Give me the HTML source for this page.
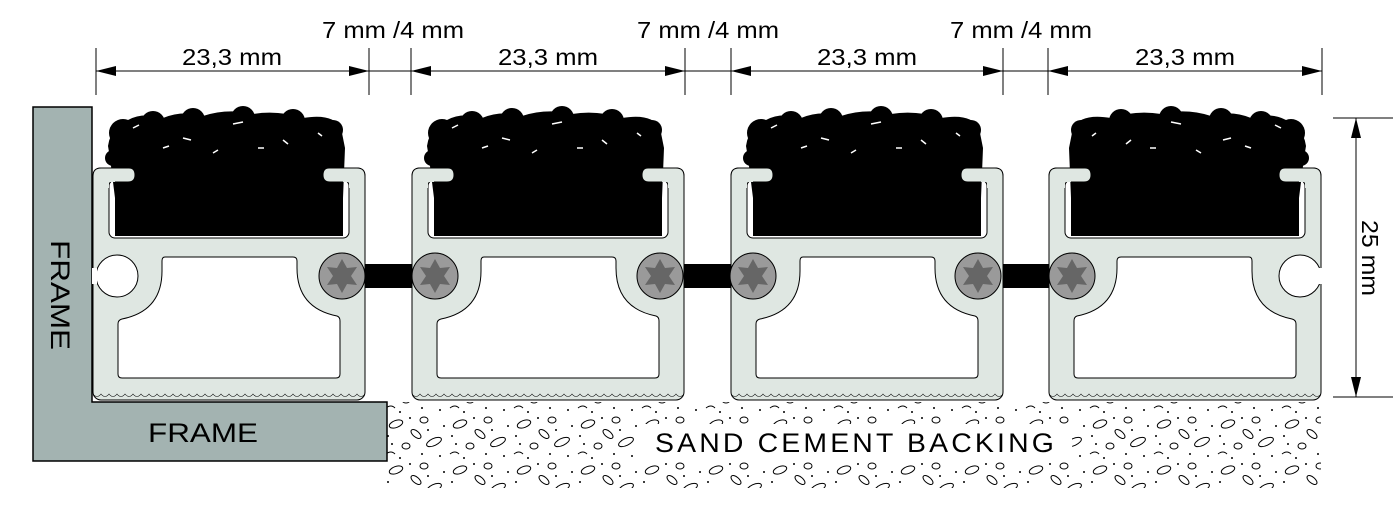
<!DOCTYPE html>
<html><head><style>body{margin:0;background:#fff}svg{display:block}</style></head>
<body>
<svg width="1395" height="519" viewBox="0 0 1395 519" xmlns="http://www.w3.org/2000/svg" font-family="Liberation Sans, sans-serif">
<defs>
<marker id="a" viewBox="0 0 20 10" refX="20" refY="5" markerWidth="20" markerHeight="10" markerUnits="userSpaceOnUse" orient="auto-start-reverse"><path d="M0,0 L20,5 L0,10 Z" fill="#000"/></marker>
<pattern id="sand" width="64" height="46" patternUnits="userSpaceOnUse">
<g fill="none" stroke="#000" stroke-width="1">
<ellipse cx="12" cy="10" rx="7" ry="3.5" transform="rotate(-20 12 10)"/>
<ellipse cx="40" cy="6" rx="4" ry="3"/>
<ellipse cx="50" cy="28" rx="8" ry="3.5" transform="rotate(-25 50 28)"/>
<ellipse cx="22" cy="32" rx="4" ry="3"/>
<ellipse cx="32" cy="20" rx="6" ry="3" transform="rotate(40 32 20)"/>
<path d="M2,40 q5,-4 9,0"/>
</g>
<g fill="#000">
<circle cx="4" cy="22" r="1"/><circle cx="26" cy="4" r="1"/><circle cx="60" cy="12" r="1"/><circle cx="38" cy="40" r="1"/><circle cx="16" cy="44" r="1"/><circle cx="56" cy="42" r="1"/><circle cx="44" cy="16" r="1"/><circle cx="8" cy="30" r="1"/>
</g>
</pattern>
<g id="pile">
<path d="M22,30 L17,-10 L15,-22 Q18,-42 35,-48 Q50,-56 70,-50 Q90,-58 110,-52 Q135,-60 160,-54 Q185,-58 210,-50 Q240,-55 248,-40 L252,-20 L250,30 Z" fill="#000"/>
<g fill="#000"><circle cx="30" cy="-35" r="14"/><circle cx="60" cy="-45" r="12"/><circle cx="100" cy="-48" r="12"/><circle cx="150" cy="-50" r="12"/><circle cx="200" cy="-47" r="12"/><circle cx="240" cy="-38" r="10"/><circle cx="20" cy="-10" r="8"/></g>
<g fill="none" stroke="#fff" stroke-width="1.5"><path d="M40,-40 l6,-3"/><path d="M90,-30 l8,2"/><path d="M140,-44 l10,-2"/><path d="M190,-28 l5,4"/><path d="M70,-20 l6,-2"/><path d="M225,-35 l4,3"/><path d="M120,-15 l5,-3"/><path d="M165,-20 l6,0"/></g>
</g>
<g id="body">
<rect x="0" y="0" width="272" height="232" rx="8" fill="#dfe7e2" stroke="#000"/>
<rect x="16" y="12" width="240" height="58" rx="6" fill="#fff" stroke="#000"/>
<rect x="22" y="17" width="228" height="51" fill="#000"/>
<use href="#pile"/>
<path d="M0,8 Q0,0 8,0 H36 Q42,0 42,7 Q42,14 35,14 H16 V20 H0 Z" fill="#dfe7e2"/>
<path d="M42,7 Q42,14 35,14 H22" fill="none" stroke="#000"/>
<path d="M272,8 Q272,0 264,0 H236 Q230,0 230,7 Q230,14 237,14 H256 V20 H272 Z" fill="#dfe7e2"/>
<path d="M230,7 Q230,14 237,14 H250" fill="none" stroke="#000"/>
<path d="M0,20 V8 Q0,0 8,0 H36 Q42,0 42,7 M272,20 V8 Q272,0 264,0 H236 Q230,0 230,7" fill="none" stroke="#000"/>
<path d="M72,89 H200 Q204,89 204,93 V100 Q204,140 244,148 Q247,149 247,153 V206 Q247,210 243,210 H29 Q25,210 25,206 V156 Q25,152 29,151 Q69,143 69,103 V93 Q69,89 72,89 Z" fill="#fff" stroke="#000"/>
<path d="M0,226 q4,5 8,0 q4,5 8,0 q4,5 8,0 q4,5 8,0 q4,5 8,0 q4,5 8,0 q4,5 8,0 q4,5 8,0 q4,5 8,0 q4,5 8,0 q4,5 8,0 q4,5 8,0 q4,5 8,0 q4,5 8,0 q4,5 8,0 q4,5 8,0 q4,5 8,0 q4,5 8,0 q4,5 8,0 q4,5 8,0 q4,5 8,0 q4,5 8,0 q4,5 8,0 q4,5 8,0 q4,5 8,0 q4,5 8,0 q4,5 8,0 q4,5 8,0 q4,5 8,0 q4,5 8,0 q4,5 8,0 q4,5 8,0 q4,5 8,0 q4,5 8,0" fill="none" stroke="#000" stroke-width="0.6"/>
</g>
<g id="screw"><circle r="23" fill="#9a9a9a" stroke="#000"/><path d="M0,-17 L5,-8 L15,-9 L9,0 L15,9 L5,8 L0,17 L-5,8 L-15,9 L-9,0 L-15,-9 L-5,-8 Z" fill="#666"/></g>
<g id="hole"><circle r="21" fill="#fff" stroke="#000"/></g>
</defs>

<rect x="387" y="402" width="934" height="86" fill="url(#sand)"/>
<rect x="640" y="424" width="432" height="38" fill="#fff"/>
<text x="655" y="452" font-size="27" textLength="402" lengthAdjust="spacingAndGlyphs" letter-spacing="3">SAND CEMENT BACKING</text>

<path d="M33,107 H92 V402 H387 V461 H33 Z" fill="#a3b3b1" stroke="#000" stroke-width="1.5"/>
<text x="148" y="442" font-size="27" textLength="110" lengthAdjust="spacingAndGlyphs">FRAME</text>
<text transform="translate(51,240) rotate(90)" font-size="27" textLength="110" lengthAdjust="spacingAndGlyphs">FRAME</text>

<rect x="342" y="264" width="93" height="24" fill="#000"/>
<rect x="660" y="264" width="93" height="24" fill="#000"/>
<rect x="978" y="264" width="94" height="24" fill="#000"/>

<g transform="translate(93,168)"><use href="#body"/><use href="#hole" x="24" y="108"/><rect x="-1" y="100" width="5" height="16" fill="#fff"/><use href="#screw" x="249" y="108"/></g>
<g transform="translate(412,168)"><use href="#body"/><use href="#screw" x="23" y="108"/><use href="#screw" x="248" y="108"/></g>
<g transform="translate(731,168)"><use href="#body"/><use href="#screw" x="22" y="108"/><use href="#screw" x="247" y="108"/></g>
<g transform="translate(1321,168) scale(-1,1)"><use href="#body"/><use href="#hole" x="21" y="108"/><rect x="-1" y="100" width="5" height="16" fill="#fff"/><use href="#screw" x="249" y="108"/></g>

<g stroke="#000" stroke-width="1">
<line x1="96" y1="48" x2="96" y2="95"/><line x1="369" y1="48" x2="369" y2="95"/>
<line x1="411" y1="48" x2="411" y2="95"/><line x1="685" y1="48" x2="685" y2="95"/>
<line x1="731" y1="48" x2="731" y2="95"/><line x1="1003" y1="48" x2="1003" y2="95"/>
<line x1="1048" y1="48" x2="1048" y2="95"/><line x1="1322" y1="48" x2="1322" y2="95"/>
<line x1="96" y1="71" x2="1322" y2="71"/>
<line x1="96" y1="71" x2="369" y2="71" marker-start="url(#a)" marker-end="url(#a)"/>
<line x1="411" y1="71" x2="685" y2="71" marker-start="url(#a)" marker-end="url(#a)"/>
<line x1="731" y1="71" x2="1003" y2="71" marker-start="url(#a)" marker-end="url(#a)"/>
<line x1="1048" y1="71" x2="1322" y2="71" marker-start="url(#a)" marker-end="url(#a)"/>
</g>
<g font-size="23">
<text x="182" y="65" textLength="100" lengthAdjust="spacingAndGlyphs">23,3 mm</text>
<text x="498" y="65" textLength="100" lengthAdjust="spacingAndGlyphs">23,3 mm</text>
<text x="817" y="65" textLength="100" lengthAdjust="spacingAndGlyphs">23,3 mm</text>
<text x="1135" y="65" textLength="100" lengthAdjust="spacingAndGlyphs">23,3 mm</text>
<text x="322" y="38" textLength="142" lengthAdjust="spacingAndGlyphs">7 mm /4 mm</text>
<text x="637" y="38" textLength="142" lengthAdjust="spacingAndGlyphs">7 mm /4 mm</text>
<text x="950" y="38" textLength="142" lengthAdjust="spacingAndGlyphs">7 mm /4 mm</text>
</g>

<g stroke="#000">
<line x1="1333" y1="118" x2="1393" y2="118"/><line x1="1333" y1="397" x2="1393" y2="397"/>
<line x1="1356" y1="118" x2="1356" y2="397" marker-start="url(#a)" marker-end="url(#a)"/>
</g>
<text transform="translate(1362,220) rotate(90)" font-size="23" textLength="76" lengthAdjust="spacingAndGlyphs">25 mm</text>
</svg>
</body></html>
